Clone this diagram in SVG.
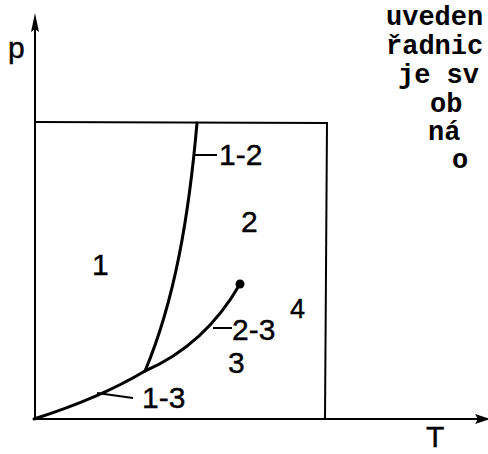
<svg xmlns="http://www.w3.org/2000/svg" width="488" height="454" viewBox="0 0 488 454">
<style>
.ax{stroke:#000;stroke-width:2;fill:none}
.cv{stroke:#000;stroke-width:3;fill:none;stroke-linecap:round}
.tk{stroke:#000;stroke-width:2;fill:none}
.lb{font-family:"Liberation Sans",Arial,sans-serif;font-size:30px;fill:#000;stroke:#000;stroke-width:0.4}
.tw{font-family:"Liberation Mono","Courier New",monospace;font-weight:bold;font-size:27px;fill:#000}
</style>
<rect width="488" height="454" fill="#fff"/>
<g id="axes">
<line class="ax" x1="35" y1="28" x2="35" y2="419"/>
<polygon points="35,13 31,32 35,29 39,32" fill="#000"/>
<line class="ax" x1="33" y1="419" x2="478" y2="419"/>
<polygon points="490,419 475,414 478,419 475,424" fill="#000"/>
</g>
<g id="box">
<line class="ax" x1="35" y1="122" x2="328" y2="123"/>
<line class="ax" x1="327" y1="122" x2="325" y2="419"/>
</g>
<g id="connectors">
<path id="c12" class="cv" d="M197,123 C189,215 175,300 145,371"/>
<path id="c13" class="cv" d="M34,419 Q100,398 145,371"/>
<path id="c23" class="cv" d="M145,371 Q205,345 240,284"/>
<circle cx="240" cy="284" r="4.5" fill="#000"/>
<line class="tk" x1="195" y1="155" x2="217" y2="155"/>
<line class="tk" x1="213" y1="328" x2="232" y2="328"/>
<line class="tk" x1="97" y1="393" x2="133" y2="398"/>
</g>
<g id="labels">
<text class="lb" x="8" y="58">p</text>
<text class="lb" x="219" y="165">1-2</text>
<text class="lb" x="241" y="232">2</text>
<text class="lb" x="92" y="275">1</text>
<text class="lb" x="290" y="318" style="font-size:27px">4</text>
<text class="lb" x="232" y="340">2-3</text>
<text class="lb" x="228" y="373">3</text>
<text class="lb" x="142" y="408">1-3</text>
<text class="lb" x="426" y="447">T</text>
</g>
<g id="sidetext">
<text class="tw" x="386" y="25">uveden</text>
<text class="tw" x="386" y="54">řadnic</text>
<text class="tw" x="398" y="83">je sv</text>
<text class="tw" x="430" y="112">ob</text>
<text class="tw" x="428" y="140">ná</text>
<text class="tw" x="452" y="168">o</text>
</g>
</svg>
